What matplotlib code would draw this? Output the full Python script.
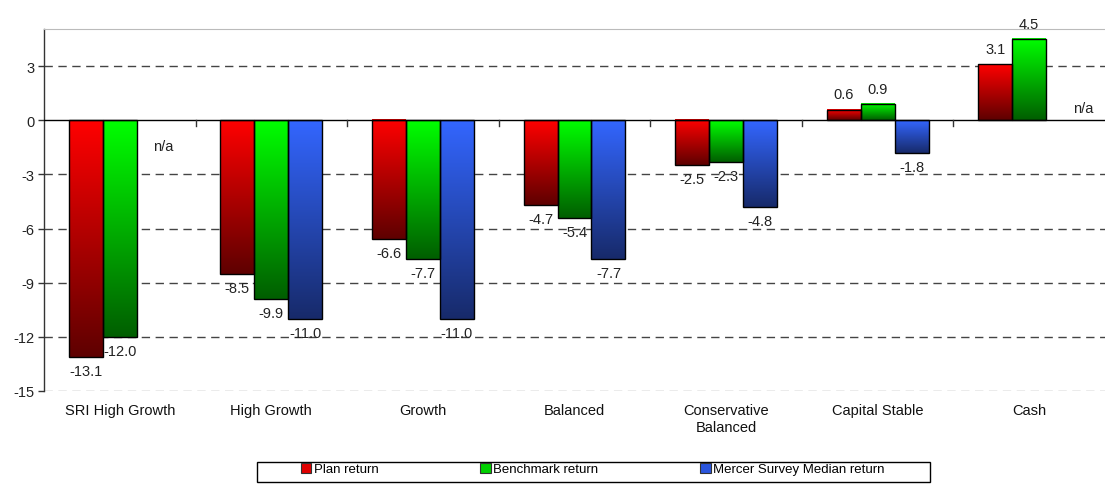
import numpy as np
import matplotlib
matplotlib.use('Agg')
import matplotlib.pyplot as plt
from matplotlib.colors import LinearSegmentedColormap
from matplotlib.patches import Patch, Rectangle

plt.rcParams['font.family'] = ['Liberation Sans', 'DejaVu Sans']

# Datos
categories = ['SRI High Growth', 'High Growth', 'Growth', 'Balanced',
              'Conservative\nBalanced', 'Capital Stable', 'Cash']
plan_return = [-13.1, -8.5, -6.6, -4.7, -2.5, 0.6, 3.1]
benchmark_return = [-12.0, -9.9, -7.7, -5.4, -2.3, 0.9, 4.5]
mercer_return = [None, -11.0, -11.0, -7.7, -4.8, -1.8, None]
series_names = ['Plan return', 'Benchmark return', 'Mercer Survey Median return']
y_ticks = [-15, -12, -9, -6, -3, 0, 3]

# colores (arriba claro, abajo oscuro)
grad_colors = [('#ff0000', '#5e0000'), ('#00ff00', '#005e00'), ('#3366ff', '#172a6a')]
legend_colors = ['#e00000', '#00d000', '#2a55dd']
fs = 10.5

fig = plt.figure(figsize=(11.05, 4.85), dpi=100)
ax = fig.add_axes([0.0398, 0.192, 0.9602, 0.746])

width = 0.224
x = np.arange(len(categories))
all_series = [plan_return, benchmark_return, mercer_return]
grad = np.linspace(1, 0, 256).reshape(-1, 1)

for k, (vals, (c_top, c_bot)) in enumerate(zip(all_series, grad_colors)):
    cmap = LinearSegmentedColormap.from_list(f'g{k}', [c_bot, c_top])
    for i, v in enumerate(vals):
        xc = x[i] + (k - 1) * width
        if v is None:
            # etiqueta n/a donde faltaria la barra
            if i == 0:
                ax.text(xc + 0.06, -1.4, 'n/a', ha='center', va='center',
                        fontsize=fs, color='#222222')
            else:
                ax.text(xc + 0.13, 0.7, 'n/a', ha='center', va='center',
                        fontsize=fs, color='#222222')
            continue
        lo, hi = min(0, v), max(0, v)
        ax.imshow(grad, cmap=cmap, extent=(xc - width / 2, xc + width / 2, lo, hi),
                  aspect='auto', zorder=2, interpolation='bilinear')
        ax.bar(xc, v, width=width, fill=False, edgecolor='black', linewidth=1.0, zorder=3)
        if v < 0:
            ax.annotate(f'{v:.1f}', (xc, v), xytext=(0, -5), textcoords='offset points',
                        ha='center', va='top', fontsize=fs, color='#222222', zorder=4)
        else:
            ax.annotate(f'{v:.1f}', (xc, v), xytext=(0, 6), textcoords='offset points',
                        ha='center', va='bottom', fontsize=fs, color='#222222', zorder=4)

ax.set_xlim(-0.5, len(categories) - 0.5)
ax.set_ylim(-15, 5.06)
ax.set_yticks(y_ticks)
ax.set_yticklabels([str(t) for t in y_ticks], fontsize=fs, color='#222222')
ax.set_xticks(x)
ax.set_xticklabels(categories, fontsize=fs, color='#111111', va='top')
ax.tick_params(axis='x', length=0, pad=9)
ax.tick_params(axis='y', length=4, width=1, color='#333333', direction='out', pad=3)

# rejilla
for t in y_ticks:
    if t == 0:
        continue
    col = '#999999' if t == -15 else '#444444'
    ax.axhline(t, color=col, linestyle=(0, (6, 4)), linewidth=1.0, zorder=1)
ax.axhline(0, color='black', linewidth=1.0, zorder=3)
for b in np.arange(0.5, len(categories) - 0.5, 1.0):
    ax.plot([b, b], [0, -0.3], color='#333333', linewidth=1.0, zorder=3)

ax.spines['left'].set_color('#333333')
ax.spines['left'].set_linewidth(1.0)
ax.spines['top'].set_color('#bbbbbb')
ax.spines['bottom'].set_visible(False)
ax.spines['right'].set_visible(False)

# leyenda con marco propio
handles = [Patch(facecolor=c, edgecolor='#333333', linewidth=0.8) for c in legend_colors]
leg = fig.legend(handles, series_names, loc='center left', bbox_to_anchor=(0.272, 0.031),
                 ncol=3, fontsize=9.5, frameon=False,
                 handlelength=0.8, handleheight=0.8, handletextpad=0.2,
                 columnspacing=7.7, borderpad=0, borderaxespad=0)
fig.patches.append(Rectangle((257 / 1105, 2 / 485), 673 / 1105, 20 / 485,
                             transform=fig.transFigure, fill=False,
                             edgecolor='black', linewidth=1.0))

plt.savefig('out.png', dpi=100)
